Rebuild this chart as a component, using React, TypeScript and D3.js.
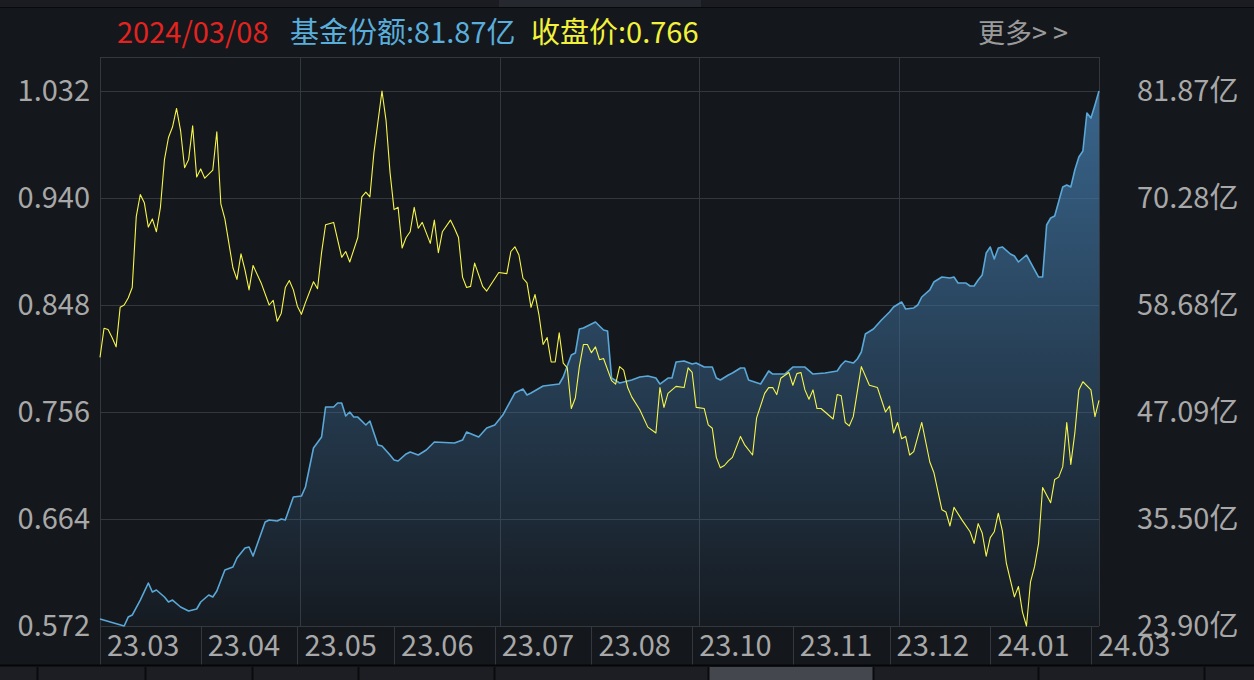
import React from "react";
import * as d3 from "d3";

// ---- data (trading-day index from 2023-03-01, value) ----
const closePrice: [number, number][] = [
  [0,0.803],[1,0.828],[2,0.827],[3,0.820],[4,0.812],[5,0.846],[6,0.848],[7,0.854],[8,0.863],[9,0.924],
  [10,0.943],[11,0.936],[12,0.915],[13,0.922],[14,0.911],[15,0.932],[16,0.973],[17,0.992],[18,1.001],[19,1.017],
  [20,0.998],[21,0.966],[22,0.973],[23,1.002],[24,0.958],[25,0.965],[26,0.957],[28,0.964],[29,0.997],[30,0.935],
  [31,0.922],[33,0.880],[34,0.870],[35,0.892],[36,0.878],[37,0.861],[38,0.882],[40,0.867],[42,0.848],[43,0.852],
  [44,0.834],[45,0.841],[46,0.863],[47,0.869],[48,0.861],[49,0.847],[50,0.840],[51,0.850],[53,0.868],[54,0.862],
  [55,0.893],[56,0.917],[58,0.919],[60,0.889],[61,0.894],[62,0.885],[64,0.906],[65,0.941],[66,0.945],[67,0.941],
  [68,0.979],[70,1.032],[71,1.007],[72,0.962],[73,0.930],[74,0.932],[75,0.897],[76,0.906],[77,0.911],[78,0.932],
  [79,0.914],[80,0.919],[82,0.901],[83,0.921],[84,0.893],[85,0.911],[87,0.921],[88,0.914],[89,0.906],[90,0.872],
  [91,0.863],[92,0.864],[93,0.884],[95,0.864],[96,0.860],[99,0.876],[101,0.875],[102,0.894],[103,0.898],[104,0.891],
  [105,0.871],[106,0.867],[107,0.846],[108,0.857],[109,0.839],[110,0.814],[111,0.820],[112,0.799],[113,0.799],[114,0.824],
  [115,0.798],[116,0.794],[117,0.759],[118,0.768],[119,0.795],[120,0.814],[121,0.814],[122,0.807],[123,0.812],[124,0.801],
  [125,0.802],[127,0.783],[128,0.780],[129,0.795],[130,0.792],[131,0.777],[132,0.769],[134,0.758],[136,0.743],[138,0.738],
  [139,0.777],[140,0.760],[141,0.772],[142,0.775],[143,0.778],[145,0.777],[146,0.794],[147,0.790],[148,0.760],[150,0.759],
  [151,0.745],[152,0.742],[153,0.717],[154,0.708],[155,0.710],[156,0.714],[157,0.717],[159,0.735],[160,0.728],[162,0.719],
  [163,0.751],[165,0.772],[166,0.777],[167,0.777],[168,0.771],[169,0.785],[171,0.790],[172,0.779],[173,0.789],[174,0.790],
  [175,0.775],[176,0.767],[177,0.775],[178,0.759],[179,0.759],[181,0.753],[182,0.750],[183,0.771],[184,0.770],[185,0.747],
  [186,0.744],[187,0.752],[189,0.795],[191,0.779],[193,0.777],[195,0.756],[196,0.761],[197,0.738],[198,0.747],[199,0.733],
  [200,0.735],[201,0.719],[202,0.722],[204,0.747],[206,0.713],[207,0.704],[209,0.672],[210,0.670],[211,0.658],[212,0.674],
  [214,0.663],[216,0.653],[217,0.643],[218,0.660],[219,0.652],[220,0.632],[221,0.648],[222,0.653],[223,0.669],[224,0.654],
  [225,0.626],[227,0.597],[228,0.606],[229,0.584],[230,0.572],[231,0.610],[232,0.623],[233,0.643],[234,0.691],[236,0.678],
  [237,0.698],[238,0.700],[239,0.709],[240,0.747],[241,0.711],[242,0.738],[243,0.775],[244,0.782],[246,0.775],[247,0.752],
  [248,0.766],
];

const fundShare: [number, number][] = [
  [0,24.66],[6,23.90],[7,24.87],[8,25.09],[10,26.71],[12,28.56],[13,27.58],[14,27.80],[16,27.04],[17,26.50],
  [18,26.71],[20,25.96],[22,25.52],[24,25.74],[25,26.50],[27,27.26],[28,27.04],[29,27.69],[31,29.97],[33,30.29],
  [34,31.27],[36,32.35],[37,32.46],[38,31.48],[41,35.17],[42,35.38],[44,35.28],[45,35.49],[46,35.38],[48,37.88],
  [50,37.98],[51,38.96],[53,43.19],[55,44.38],[56,47.63],[58,47.63],[59,48.06],[60,48.06],[61,46.65],[62,47.09],
  [63,46.54],[64,46.54],[66,45.68],[67,46.11],[69,43.51],[70,43.40],[72,42.43],[73,41.89],[74,41.78],[76,42.54],
  [77,42.75],[79,42.43],[81,42.97],[83,43.84],[88,43.73],[90,44.05],[91,44.92],[94,44.38],[96,45.35],[98,45.68],
  [100,46.76],[103,49.15],[105,49.58],[106,48.93],[107,49.15],[110,49.90],[114,50.12],[115,50.88],[117,53.26],[118,53.48],
  [119,56.08],[120,56.19],[123,56.84],[125,55.97],[126,55.86],[127,50.77],[129,50.23],[132,50.55],[134,50.88],[136,50.99],
  [138,50.77],[139,50.12],[141,50.77],[142,50.77],[143,52.50],[145,52.61],[147,52.29],[148,52.40],[150,51.96],[152,51.96],
  [153,50.77],[154,50.55],[156,51.10],[157,51.31],[159,51.85],[160,51.85],[161,50.55],[164,50.12],[166,51.53],[167,51.20],
  [170,51.20],[172,51.96],[175,51.96],[177,51.20],[180,51.31],[183,51.53],[184,52.18],[185,52.61],[187,52.39],[188,52.83],
  [189,53.59],[190,55.54],[192,56.08],[194,57.06],[196,57.92],[197,58.46],[199,59.01],[200,58.25],[202,58.36],[203,58.68],
  [204,59.55],[206,60.31],[207,61.17],[209,61.71],[211,61.61],[212,61.71],[213,61.06],[215,61.06],[216,60.74],[217,60.74],
  [218,61.39],[219,61.93],[220,64.32],[221,64.97],[222,63.67],[223,64.86],[224,64.97],[226,64.21],[227,63.99],[228,63.34],
  [230,64.10],[233,61.71],[234,61.71],[235,67.35],[236,68.11],[237,68.32],[239,71.47],[240,71.68],[241,71.47],[242,73.31],
  [243,74.72],[244,75.37],[245,79.49],[246,78.94],[247,80.35],[248,81.87],
];

const leftTicks = [1.032, 0.94, 0.848, 0.756, 0.664, 0.572];
const leftTickLabels = ["1.032", "0.940", "0.848", "0.756", "0.664", "0.572"];
const rightTicks = [81.87, 70.28, 58.68, 47.09, 35.5, 23.9];
const rightTickLabels = ["81.87亿", "70.28亿", "58.68亿", "47.09亿", "35.50亿", "23.90亿"];
const monthTickDays = [0, 25, 49, 73, 98, 122, 147, 172, 196, 221, 246];
const monthTickLabels = ["23.03", "23.04", "23.05", "23.06", "23.07", "23.08", "23.10", "23.11", "23.12", "24.01", "24.03"];
const headerDate = "2024/03/08";
const headerShare = "81.87亿";
const headerClose = "0.766";
const bottomTabEdges = [0, 37, 145, 252, 358, 494, 708, 873, 1038, 1204, 1254];

const FONT = "'Noto Sans CJK SC', 'Noto Sans', sans-serif";

export default function App() {
  const W = 1254, H = 680;
  const L = 100, R = 1099, T = 57, B = 626;
  const x = d3.scaleLinear().domain([0, 248]).range([L, R]);
  const yL = d3.scaleLinear().domain([0.572, 1.032]).range([B, 91]);
  const yR = d3.scaleLinear().domain([23.9, 81.87]).range([B, 91]);

  const priceLine = d3.line<[number, number]>().x(d => x(d[0])).y(d => yL(d[1]))(closePrice) || "";
  const shareLine = d3.line<[number, number]>().x(d => x(d[0])).y(d => yR(d[1]))(fundShare) || "";
  const shareArea = d3.area<[number, number]>().x(d => x(d[0])).y0(B).y1(d => yR(d[1]))(fundShare) || "";

  const vGrid = d3.range(0, 6).map(i => x((i * 248) / 5));
  const grid = "#33373e";
  const axisText = "#a8a8a8";

  return (
    <svg width={W} height={H} style={{ position: "fixed", left: 0, top: 0, display: "block" }} fontFamily={FONT}>
      <defs>
        <linearGradient id="shareFill" gradientUnits="userSpaceOnUse" x1="0" y1={91} x2="0" y2={B}>
          <stop offset="0" stopColor="#3f73a0" stopOpacity={0.85} />
          <stop offset="1" stopColor="#3f73a0" stopOpacity={0.04} />
        </linearGradient>
      </defs>
      <rect x={0} y={0} width={W} height={H} fill="#14171c" />
      {/* top strip */}
      <rect x={0} y={0} width={W} height={7} fill="#1a1c21" />
      <rect x={499} y={0} width={202} height={7} fill="#25282e" />
      <line x1={0} x2={W} y1={7.5} y2={7.5} stroke="#08090b" strokeWidth={1} />

      {/* header */}
      <text y={43} fontSize={29}>
        <tspan x={117} fill="#e3231f">{headerDate}</tspan>
        <tspan x={290} fill="#5aaedb">基金份额:{headerShare}</tspan>
        <tspan x={531} fill="#f2f23a">收盘价:{headerClose}</tspan>
      </text>
      <text x={978} y={43} fontSize={27} fill="#9a9a9a">更多&gt; &gt;</text>

      {/* grid */}
      <line x1={L} x2={R} y1={T + 0.5} y2={T + 0.5} stroke={grid} />
      {leftTicks.map((t, i) => (
        <line key={"h" + i} x1={L} x2={R} y1={Math.round(yL(t)) + 0.5} y2={Math.round(yL(t)) + 0.5} stroke={grid} />
      ))}
      {vGrid.map((gx, i) => (
        <line key={"v" + i} x1={Math.round(gx) + 0.5} x2={Math.round(gx) + 0.5} y1={T} y2={B} stroke={grid} />
      ))}

      {/* series */}
      <path d={shareArea} fill="url(#shareFill)" />
      <path d={shareLine} fill="none" stroke="#5aa8d8" strokeWidth={1.6} strokeLinejoin="round" />
      <path d={priceLine} fill="none" stroke="#f6f64a" strokeWidth={1.1} strokeLinejoin="round" />

      {/* left axis */}
      {leftTicks.map((t, i) => (
        <text key={"l" + i} x={90} y={yL(t)} dy="0.36em" textAnchor="end" fontSize={29} fill={axisText}>
          {leftTickLabels[i]}
        </text>
      ))}
      {/* right axis */}
      {rightTicks.map((t, i) => (
        <text key={"r" + i} x={1137} y={yR(t)} dy="0.36em" fontSize={29} fill={axisText}>
          {rightTickLabels[i]}
        </text>
      ))}

      {/* x axis */}
      {monthTickDays.map((d, i) => (
        <g key={"x" + i}>
          <line x1={Math.round(x(d)) + 0.5} x2={Math.round(x(d)) + 0.5} y1={B} y2={665} stroke={grid} />
          <text x={x(d) + 7} y={656} fontSize={29} fill={axisText}>{monthTickLabels[i]}</text>
        </g>
      ))}

      {/* bottom tab strip */}
      <rect x={0} y={665} width={W} height={15} fill="#1c1e23" />
      <line x1={0} x2={W} y1={665.5} y2={665.5} stroke="#050607" strokeWidth={2} />
      <rect x={708} y={667} width={165} height={13} fill="#45474e" />
      {bottomTabEdges.slice(1, -1).map((e, i) => (
        <line key={"t" + i} x1={e + 0.5} x2={e + 0.5} y1={667} y2={H} stroke="#0a0b0d" strokeWidth={2} />
      ))}
    </svg>
  );
}
